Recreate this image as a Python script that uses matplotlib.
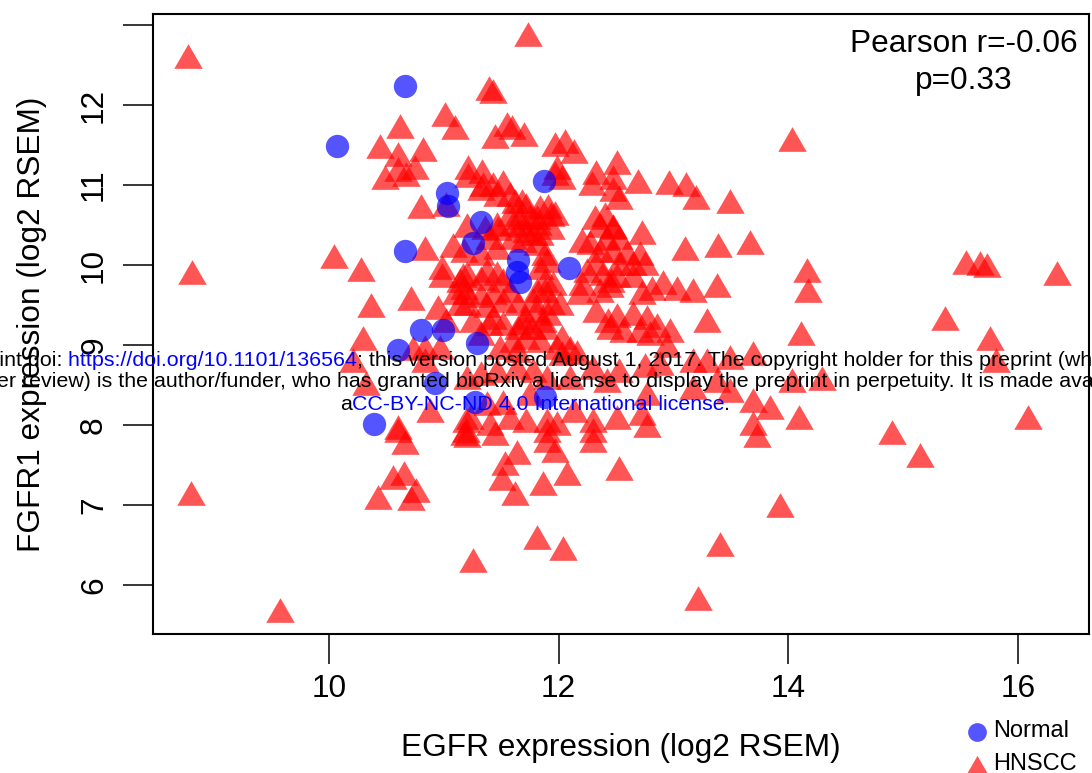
import numpy as np
import matplotlib.pyplot as plt
from matplotlib.lines import Line2D

plt.rcParams['font.family'] = ['Liberation Sans', 'DejaVu Sans']

# EGFR / FGFR1 expression (log2 RSEM)
normal = [
    (10.07, 11.49), (10.66, 12.24), (11.03, 10.90), (11.04, 10.74), (11.32, 10.54),
    (11.87, 11.05), (10.66, 10.18), (10.80, 9.19), (10.99, 9.19), (10.60, 8.94),
    (10.92, 8.53), (10.39, 8.01), (11.29, 9.03), (11.27, 8.29), (11.88, 8.35),
    (11.25, 10.28), (11.65, 10.06), (11.64, 9.91), (11.66, 9.79), (12.09, 9.96),
]

hnscc = [
    (8.77, 12.61), (11.01, 11.89), (11.10, 11.72), (10.62, 11.74), (10.44, 11.49),
    (10.60, 11.39), (10.82, 11.45), (10.75, 11.22), (10.60, 11.20), (10.49, 11.10),
    (10.67, 11.14), (11.21, 11.22), (10.80, 10.74), (11.02, 10.76),
    (11.73, 12.89), (11.39, 12.21), (11.43, 12.18), (11.55, 11.76), (11.59, 11.72),
    (11.45, 11.61), (11.70, 11.64), (11.97, 11.51), (12.06, 11.55), (12.13, 11.43),
    (11.99, 11.22), (11.33, 11.18), (11.34, 11.01), (11.43, 11.01), (11.52, 11.04),
    (11.46, 10.89), (11.58, 10.89), (11.62, 10.80), (11.68, 10.80), (11.58, 10.64),
    (11.66, 10.60), (11.84, 10.73), (11.91, 10.74), (11.93, 10.64), (11.81, 10.60),
    (12.33, 11.16), (12.51, 11.29), (12.47, 11.10), (12.69, 11.05), (12.47, 10.95),
    (12.53, 10.85), (12.40, 10.64), (12.47, 10.49), (12.96, 11.04), (13.11, 11.01),
    (13.20, 10.85), (13.49, 10.80), (11.46, 10.51), (14.03, 11.58),
    (8.81, 9.91), (10.04, 10.11), (10.28, 9.95), (10.37, 9.50), (10.71, 9.59),
    (10.84, 10.21), (11.08, 10.25), (10.98, 9.98), (10.98, 9.88), (11.17, 9.88),
    (11.11, 9.66), (11.19, 9.66), (10.95, 9.48), (11.02, 9.31), (10.30, 9.09),
    (10.21, 8.81), (10.73, 8.96), (10.84, 8.98), (10.97, 8.98), (10.84, 8.81),
    (10.32, 8.53), (10.88, 8.19), (10.60, 7.98), (11.19, 8.06), (11.19, 7.94),
    (11.20, 10.50), (11.36, 10.48), (11.47, 10.46), (11.60, 10.53), (11.72, 10.44),
    (11.84, 10.40), (11.93, 10.48), (12.36, 10.50), (12.47, 10.48), (12.42, 10.34),
    (12.53, 10.35), (12.73, 10.41), (13.10, 10.21), (13.39, 10.25), (13.67, 10.29),
    (11.46, 10.23), (11.32, 10.15), (11.81, 10.28), (11.88, 10.15), (12.27, 10.29),
    (12.36, 10.19), (12.47, 10.19), (12.60, 10.16), (12.71, 10.15), (12.75, 10.03),
    (12.65, 10.03), (12.53, 10.03), (12.33, 10.03), (12.25, 9.94), (12.39, 9.90),
    (12.51, 9.88), (12.65, 9.88), (12.91, 9.79), (13.03, 9.71), (13.17, 9.69),
    (13.38, 9.75), (11.20, 9.90), (11.32, 9.84), (11.46, 9.90), (11.84, 9.98),
    (11.88, 9.81), (11.95, 9.78), (11.81, 9.69), (11.58, 9.69), (11.43, 9.66),
    (11.32, 9.63), (11.20, 9.53), (11.38, 9.50), (11.52, 9.56), (11.65, 9.53),
    (11.78, 9.56), (11.93, 9.54), (12.01, 9.53), (12.19, 9.66), (12.36, 9.69),
    (12.45, 9.75), (12.73, 9.66), (12.81, 9.71), (12.33, 9.44), (12.51, 9.38),
    (12.65, 9.40), (12.77, 9.35), (12.86, 9.25), (13.29, 9.31), (12.97, 9.19),
    (12.56, 9.19), (12.45, 9.23), (12.71, 9.19), (12.80, 9.15), (11.25, 9.31),
    (11.43, 9.35), (11.52, 9.28), (11.69, 9.29), (11.77, 9.23), (11.86, 9.31),
    (11.32, 9.15), (11.60, 9.06), (11.72, 9.10), (11.84, 9.06), (11.99, 8.98),
    (12.10, 8.96), (11.64, 8.94), (11.49, 8.98), (12.03, 8.90), (12.16, 8.91),
    (12.94, 9.00), (13.17, 8.81), (13.38, 8.56), (13.69, 8.90), (13.69, 8.31),
    (13.49, 8.85), (13.29, 8.81), (12.88, 8.78), (12.75, 8.75), (12.53, 8.69),
    (12.42, 8.56), (12.30, 8.73), (12.10, 8.60), (11.90, 8.60), (11.78, 8.69),
    (11.64, 8.73), (11.46, 8.69), (11.32, 8.65), (11.20, 8.60), (11.75, 8.40),
    (11.52, 8.29), (11.38, 8.28), (12.77, 8.40), (13.17, 8.48), (13.49, 8.44),
    (13.69, 8.03), (12.51, 8.10), (12.73, 8.15), (12.30, 8.06), (12.13, 8.19),
    (11.90, 8.06), (11.99, 8.03), (11.72, 8.06), (11.58, 8.10), (11.40, 8.03),
    (11.23, 8.10),
    (14.16, 9.94), (14.17, 9.69), (14.11, 9.15), (15.55, 10.04), (15.67, 10.03),
    (15.73, 10.00), (16.34, 9.90), (15.37, 9.34), (15.76, 9.09), (15.81, 8.81),
    (14.03, 8.56), (14.29, 8.59), (14.09, 8.10), (16.09, 8.10), (14.90, 7.91),
    (13.84, 8.23),
    (8.80, 7.15), (9.57, 5.69), (10.60, 7.94), (10.66, 7.79), (10.56, 7.35),
    (10.65, 7.40), (10.76, 7.19), (10.43, 7.10), (10.71, 7.09), (11.18, 7.90),
    (11.25, 6.31),
    (11.20, 7.88), (11.45, 7.90), (11.90, 7.94), (11.90, 7.81), (11.97, 7.69),
    (12.30, 7.94), (12.30, 7.81), (11.64, 7.66), (11.53, 7.53), (11.51, 7.34),
    (11.62, 7.15), (11.86, 7.28), (12.07, 7.40), (12.53, 7.46), (13.73, 7.88),
    (12.77, 8.00), (11.81, 6.60), (12.04, 6.46), (13.41, 6.51), (13.21, 5.84),
    (13.93, 7.00), (15.15, 7.63),
    (11.21, 11.13), (11.32, 10.96), (11.72, 10.75), (11.75, 10.60), (11.97, 10.65),
    (11.68, 10.50), (11.82, 10.53), (11.79, 10.40), (11.69, 10.31), (11.60, 10.35),
    (11.39, 10.35), (11.90, 10.06), (11.18, 10.19), (11.18, 9.73), (11.38, 9.94),
    (11.52, 9.81), (11.88, 9.69), (11.80, 9.44), (11.91, 9.40), (11.71, 9.35),
    (12.20, 10.31), (12.32, 10.60), (12.29, 11.03), (11.97, 11.15), (12.03, 11.10),
    (12.20, 9.78), (12.46, 9.81), (12.43, 9.31), (11.39, 9.28), (11.65, 9.23),
    (11.88, 9.23), (12.03, 9.10), (11.14, 9.81), (11.14, 9.53),
]

normal_egfr, normal_fgfr1 = np.array(normal).T
hnscc_egfr, hnscc_fgfr1 = np.array(hnscc).T

x_ticks = [10, 12, 14, 16]
y_ticks = [6, 7, 8, 9, 10, 11, 12, 13]
y_tick_labels = ['6', '7', '8', '9', '10', '11', '12', '']

red = (1, 0, 0, 0.667)
blue = (0, 0, 1, 0.667)
# R style filled triangle (pch 17)
tri = [(0, 0.866), (-1, -0.866), (1, -0.866)]

W, H = 1092, 773
fig = plt.figure(figsize=(W / 100, H / 100), dpi=100)
ax = fig.add_axes([153 / W, 139 / H, 936 / W, 620 / H])

ax.scatter(hnscc_egfr, hnscc_fgfr1, s=420, marker=tri, color=red, linewidths=0)
ax.scatter(normal_egfr, normal_fgfr1, s=282, marker='o', color=blue, linewidths=0)

ax.set_xlim(8.467, 16.62)
ax.set_ylim(5.3875, 13.1375)
ax.set_xticks(x_ticks)
ax.set_yticks(y_ticks)
ax.set_yticklabels(y_tick_labels, rotation=90, va='center')
ax.tick_params(direction='out', length=21.6, width=1.1, labelsize=22.8)
ax.tick_params(axis='x', pad=7)
ax.tick_params(axis='y', pad=10)
for sp in ax.spines.values():
    sp.set_linewidth(1.5)

ax.set_xlabel('EGFR expression (log2 RSEM)', fontsize=22.8, va='center')
ax.xaxis.set_label_coords(0.5, -0.184)
ax.set_ylabel('FGFR1 expression (log2 RSEM)', fontsize=22.8, va='center', ha='center')
ax.yaxis.set_label_coords(-0.1293, 0.5)

ax.text(0.866, 0.976, 'Pearson r=-0.06\np=0.33', transform=ax.transAxes,
        fontsize=22.8, ha='center', va='top', multialignment='center',
        linespacing=1.3)

# legend below the plot, outside the box
fig.add_artist(Line2D([977 / W], [1 - 732 / H], marker='o', markersize=13.5,
                      color=blue, markeredgewidth=0, transform=fig.transFigure))
fig.add_artist(Line2D([977 / W], [1 - 765 / H], marker=tri, markersize=16,
                      color=red, markeredgewidth=0, transform=fig.transFigure))
fig.text(993 / W, 1 - 731 / H, 'Normal', fontsize=17, va='center')
fig.text(993 / W, 1 - 764 / H, 'HNSCC', fontsize=17, va='center')

# preprint notice across the middle
wm_size = 15.4
wm_lines = [
    [('bioRxiv preprint doi:', 'black'), (' https://doi.org/10.1101/136564', 'blue'),
     ('; this version posted August 1, 2017. The copyright holder for this preprint (which', 'black')],
    [('was not certified by peer review) is the author/funder, who has granted bioRxiv a license '
      'to display the preprint in perpetuity. It is made available under', 'black')],
    [('a', 'black'), ('CC-BY-NC-ND 4.0 International license', 'blue'), ('.', 'black')],
]
wm_y = [360, 382, 404]
wm_cx = [496, 494, 535]
renderer = fig.canvas.get_renderer()
for pieces, py, cx in zip(wm_lines, wm_y, wm_cx):
    arts = [fig.text(0, 1 - py / H, s, color=c, fontsize=wm_size, va='center', ha='left')
            for s, c in pieces]
    widths = [a.get_window_extent(renderer).width for a in arts]
    x = cx - sum(widths) / 2
    for a, w in zip(arts, widths):
        a.set_x(x / W)
        x += w

fig.savefig('out.png', dpi=100)
